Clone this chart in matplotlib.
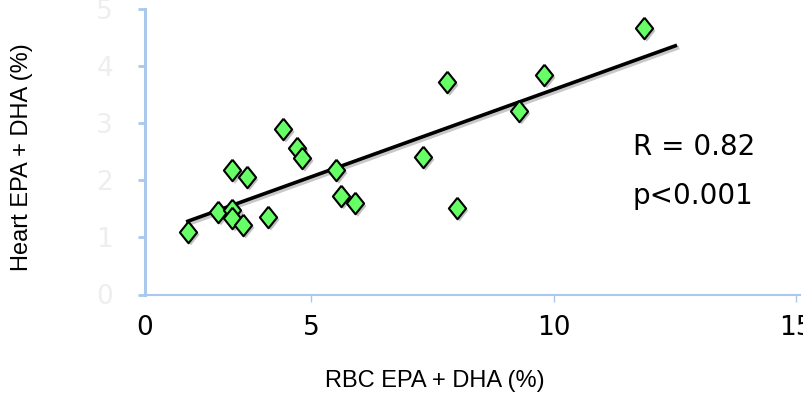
import numpy as np
import matplotlib
matplotlib.use("Agg")
import matplotlib.pyplot as plt
import matplotlib.transforms as mtransforms

# RBC vs heart omega-3 (EPA + DHA)
rbc = [2.46, 3.08, 3.37, 3.37, 3.59, 3.37, 3.67, 4.11, 4.42, 4.71,
       4.81, 5.51, 5.61, 5.90, 7.30, 7.80, 8.00, 9.28, 9.80, 11.86]
heart = [1.10, 1.45, 1.48, 1.34, 1.22, 2.18, 2.06, 1.36, 2.90, 2.57,
         2.39, 2.18, 1.73, 1.60, 2.41, 3.72, 1.52, 3.22, 3.85, 4.67]
trend_range = [2.42, 12.54]

x_ticks = [5, 10, 15]
x_ticklabels = ["5", "10", "15"]
y_ticks = [0, 1, 2, 3, 4, 5]

fig = plt.figure(figsize=(8.04, 3.94), dpi=100)
W, H = 804, 394
ax = fig.add_axes([145 / W, 1 - 294.5 / H, (800 - 145) / W, (294.5 - 9.3) / H])

xlo = 5 + (145 - 311.3) / 48.5
xhi = 5 + (800 - 311.3) / 48.5
ax.set_xlim(xlo, xhi)
ax.set_ylim(0, 5)

# trendline
slope, icpt = np.polyfit(rbc, heart, 1)
tx = np.array(trend_range)
ty = slope * tx + icpt
shadow = mtransforms.offset_copy(ax.transData, fig=fig, x=1.5, y=-1.5, units="points")
ax.plot(tx, ty, color="#c8c8c8", lw=3, transform=shadow, solid_capstyle="butt", zorder=2)
ax.plot(tx, ty, color="black", lw=2.6, solid_capstyle="butt", zorder=3)

diamond = [(0, 1), (0.8, 0), (0, -1), (-0.8, 0), (0, 1)]
ax.scatter(rbc, heart, marker=diamond, s=240, color="#c0c0c0", edgecolor="none",
           transform=mtransforms.offset_copy(ax.transData, fig=fig, x=2, y=-2, units="points"),
           zorder=4)
ax.scatter(rbc, heart, marker=diamond, s=240, facecolor="#66ff66", edgecolor="black",
           linewidth=1.5, zorder=5)

# axes styling
axis_col = "#a9c8ec"
for s in ["top", "right"]:
    ax.spines[s].set_visible(False)
ax.spines["left"].set_color(axis_col)
ax.spines["left"].set_linewidth(2.2)
ax.spines["bottom"].set_color(axis_col)
ax.spines["bottom"].set_linewidth(1.5)

ax.set_yticks(y_ticks)
ax.set_yticklabels([str(v) for v in y_ticks], color="#eeeeee", fontsize=19)
ax.tick_params(axis="y", direction="out", length=5, width=2, color=axis_col, pad=18)

ax.set_xticks([xlo] + x_ticks)
ax.set_xticklabels(["0"] + x_ticklabels, fontsize=19)
ax.tick_params(axis="x", direction="out", length=5, width=1, color=axis_col, pad=10)
ax.xaxis.get_major_ticks()[0].tick1line.set_visible(False)

ax.set_xlabel("RBC EPA + DHA (%)", fontsize=17, family="Liberation Sans", va="center")
ax.set_ylabel("Heart EPA + DHA (%)", fontsize=17, family="Liberation Sans", va="center")
ax.xaxis.set_label_coords((435 - 145) / (800 - 145), -(381 - 294.5) / (294.5 - 9.3))
ax.yaxis.set_label_coords(-(145 - 22) / (800 - 145), (294.5 - 157) / (294.5 - 9.3))

ax.text(633 / W, 1 - 147 / H, "R = 0.82", transform=fig.transFigure, fontsize=20,
        va="center", ha="left")
ax.text(633 / W, 1 - 196 / H, "p<0.001", transform=fig.transFigure, fontsize=20,
        va="center", ha="left")

fig.savefig("out.png", dpi=100)
